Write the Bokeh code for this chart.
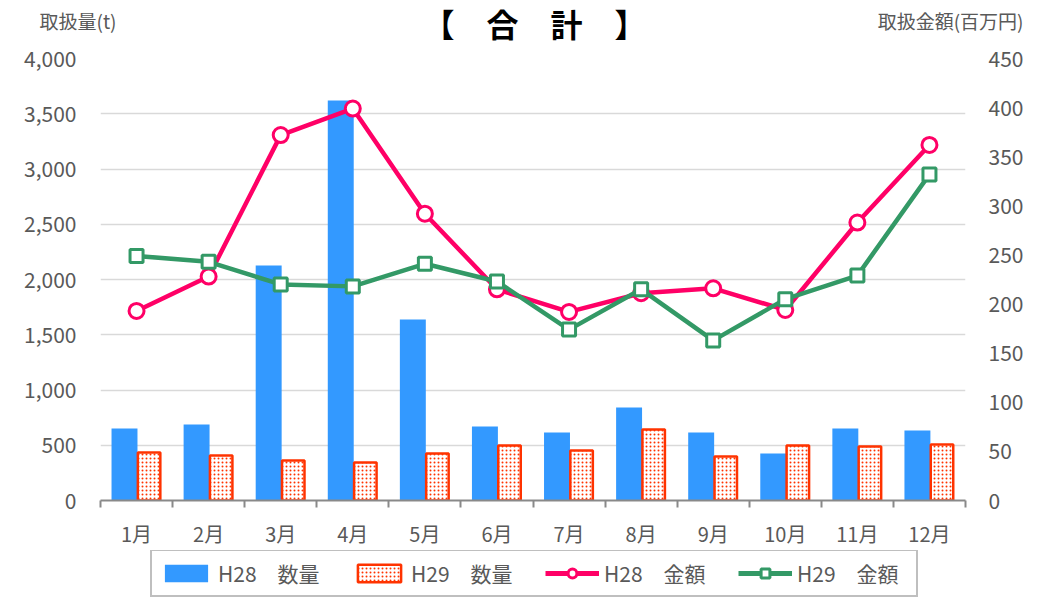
from bokeh.plotting import figure
from bokeh.layouts import column
from bokeh.models import (Range1d, LinearAxis, FixedTicker, Label, Legend, LegendItem,
                          NumeralTickFormatter, ColumnDataSource)
from bokeh.transform import dodge
from bokeh.embed import file_html
from bokeh.resources import INLINE

months = ["1月", "2月", "3月", "4月", "5月", "6月", "7月", "8月", "9月", "10月", "11月", "12月"]
h28_qty = [652, 688, 2127, 3620, 1638, 670, 615, 842, 615, 425, 652, 633]
h29_qty = [434, 407, 362, 344, 425, 498, 452, 643, 398, 498, 489, 507]
h28_amt = [193, 228, 372, 399, 292, 215, 192, 211, 216, 194, 283, 362]
h29_amt = [249, 243, 220, 218, 241, 223, 174, 215, 163, 205, 229, 332]
series_names = ["H28　数量", "H29　数量", "H28　金額", "H29　金額"]
title_text = "【　合　計　】"
left_title = "取扱量(t)"
right_title = "取扱金額(百万円)"

pos = list(range(1, len(months) + 1))
src = ColumnDataSource(dict(x=pos, h28q=h28_qty, h29q=h29_qty, h28a=h28_amt, h29a=h29_amt))

FONT = "Noto Sans CJK JP"
GRAY = "#595959"
BLUE = "#3399FF"
RED = "#FF3300"
PINK = "#FF0066"
GREEN = "#339966"
W = 1045
HDR_H = 44


def unalign(fig):
    if "frame_align" in fig.properties():
        fig.frame_align = False


# ---------- header ----------
hdr = figure(width=W, height=HDR_H, output_backend="svg", toolbar_location=None,
             x_range=Range1d(0, W), y_range=Range1d(0, HDR_H),
             x_axis_location=None, y_axis_location=None,
             min_border=0)
unalign(hdr)
hdr.grid.visible = False
hdr.outline_line_color = None
hdr.add_layout(Label(x=534, y=HDR_H - 22, text=title_text, text_align="center", text_baseline="middle",
                     text_font=FONT, text_font_size="32px", text_font_style="bold",
                     text_color="black"))
hdr.add_layout(Label(x=39, y=HDR_H - 20, text=left_title, text_align="left", text_baseline="middle",
                     text_font=FONT, text_font_size="19px", text_color=GRAY))
hdr.add_layout(Label(x=1023, y=HDR_H - 20, text=right_title, text_align="right", text_baseline="middle",
                     text_font=FONT, text_font_size="19px", text_color=GRAY))

# ---------- main chart ----------
p = figure(frame_width=865, frame_height=442, output_backend="svg", toolbar_location=None,
           x_range=Range1d(0.5, 12.5), y_range=Range1d(0, 4000),
           min_border_left=100, min_border_right=80, min_border_top=58 - HDR_H, min_border_bottom=46)
p.outline_line_color = None
p.extra_y_ranges = {"amt": Range1d(0, 450)}

b1 = p.vbar(x=dodge("x", -0.167), top="h28q", width=0.36, source=src,
            fill_color=BLUE, line_color=None)
b2 = p.vbar(x=dodge("x", 0.174), top="h29q", width=0.312, source=src,
            fill_color="white", line_color=RED, line_width=2.5,
            hatch_pattern="dot", hatch_color=RED, hatch_scale=4, hatch_weight=1.5)

l1 = p.line(x="x", y="h28a", source=src, y_range_name="amt", line_color=PINK, line_width=4.5)
s1 = p.scatter(x="x", y="h28a", source=src, y_range_name="amt", marker="circle", size=15,
               fill_color="white", line_color=PINK, line_width=3)
l2 = p.line(x="x", y="h29a", source=src, y_range_name="amt", line_color=GREEN, line_width=4.5)
s2 = p.scatter(x="x", y="h29a", source=src, y_range_name="amt", marker="square", size=13,
               fill_color="white", line_color=GREEN, line_width=3)

xa = p.xaxis[0]
xa.ticker = FixedTicker(ticks=pos, minor_ticks=[v - 0.5 for v in pos] + [12.5])
xa.major_label_overrides = {v: m for v, m in zip(pos, months)}
xa.major_tick_line_color = None
xa.major_tick_out = 7
xa.major_tick_in = 0
xa.minor_tick_in = 0
xa.minor_tick_out = 7
xa.minor_tick_line_color = "#898989"
xa.minor_tick_line_width = 2
xa.axis_line_color = "#898989"
xa.axis_line_width = 2
xa.major_label_standoff = 11
xa.major_label_text_font = FONT
xa.major_label_text_font_size = "20px"
xa.major_label_text_color = GRAY

ya = p.yaxis[0]
ya.ticker = FixedTicker(ticks=list(range(0, 4001, 500)))
ya.formatter = NumeralTickFormatter(format="0,0")
ya.axis_line_color = None
ya.major_tick_line_color = None
ya.minor_tick_line_color = None
ya.major_tick_out = 0
ya.major_tick_in = 0
ya.major_label_standoff = 24
ya.major_label_text_font = FONT
ya.major_label_text_font_size = "21px"
ya.major_label_text_color = GRAY

ra = LinearAxis(y_range_name="amt", ticker=FixedTicker(ticks=list(range(0, 451, 50))))
ra.axis_line_color = None
ra.major_tick_line_color = None
ra.minor_tick_line_color = None
ra.major_tick_out = 0
ra.major_tick_in = 0
ra.major_label_standoff = 23
ra.major_label_text_font = FONT
ra.major_label_text_font_size = "21px"
ra.major_label_text_color = GRAY
p.add_layout(ra, "right")

p.xgrid.grid_line_color = None
p.ygrid.ticker = FixedTicker(ticks=list(range(0, 4001, 500)))
p.ygrid.grid_line_color = "#d9d9d9"
p.ygrid.grid_line_width = 1.5

# ---------- legend strip (hidden copies of the series; only their legend keys show) ----------
lg = figure(width=W, height=54, output_backend="svg", toolbar_location=None,
            x_range=Range1d(0.5, 12.5), y_range=Range1d(0, 4000),
            x_axis_location=None, y_axis_location=None, min_border=0)
unalign(lg)
lg.grid.visible = False
lg.outline_line_color = None
g1 = lg.vbar(x="x", top="h28q", width=0.36, source=src, fill_color=BLUE, line_color=None)
g2 = lg.vbar(x="x", top="h29q", width=0.312, source=src, fill_color="white", line_color=RED,
             line_width=2.5, hatch_pattern="dot", hatch_color=RED, hatch_scale=4, hatch_weight=1.5)
g3 = lg.line(x="x", y="h28a", source=src, line_color=PINK, line_width=5)
g3m = lg.scatter(x="x", y="h28a", source=src, marker="circle", size=15,
                 fill_color="white", line_color=PINK, line_width=3)
g4 = lg.line(x="x", y="h29a", source=src, line_color=GREEN, line_width=5)
g4m = lg.scatter(x="x", y="h29a", source=src, marker="square", size=13,
                 fill_color="white", line_color=GREEN, line_width=3)
for r in (g1, g2, g3, g3m, g4, g4m):
    r.visible = False

legend = Legend(items=[
    LegendItem(label=series_names[0], renderers=[g1]),
    LegendItem(label=series_names[1], renderers=[g2]),
    LegendItem(label=series_names[2], renderers=[g3, g3m]),
    LegendItem(label=series_names[3], renderers=[g4, g4m]),
], orientation="horizontal", location=(150, 7))
legend.click_policy = "none"
legend.border_line_color = "#808080"
legend.border_line_width = 2
legend.background_fill_color = "white"
legend.background_fill_alpha = 1
legend.label_text_font = FONT
legend.label_text_font_size = "21px"
legend.label_text_color = GRAY
legend.glyph_width = 54
legend.glyph_height = 22
legend.label_standoff = 5
legend.label_width = 112
legend.spacing = 22
legend.padding = 7
legend.margin = 0
lg.add_layout(legend, "center")

layout = column(hdr, p, lg, spacing=0)
open("out.html", "w").write(file_html(layout, INLINE))
